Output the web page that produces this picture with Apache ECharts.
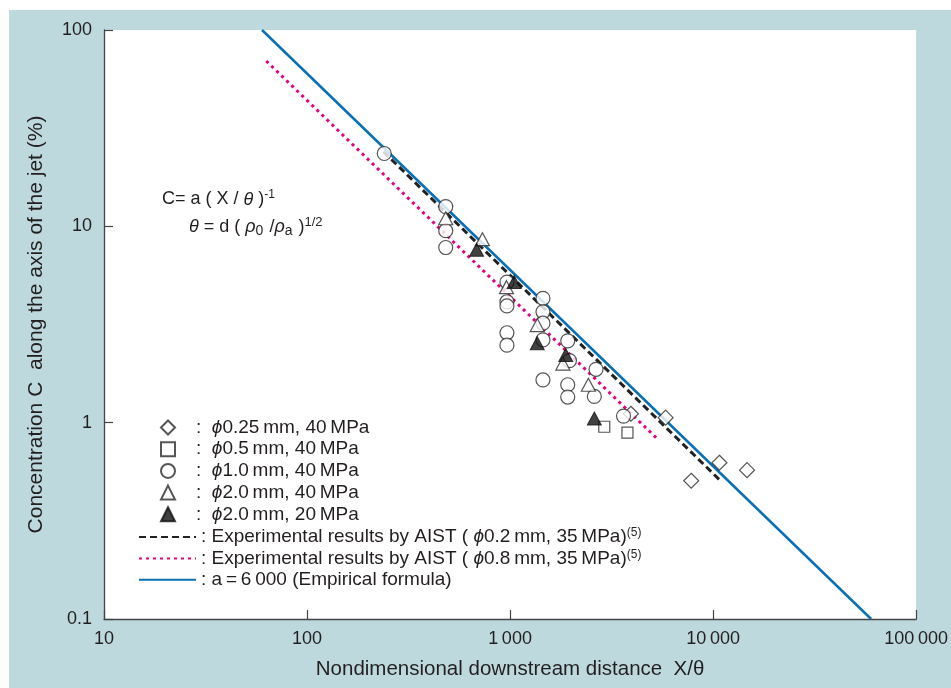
<!DOCTYPE html>
<html><head><meta charset="utf-8">
<script src="https://cdn.jsdelivr.net/npm/echarts@6/dist/echarts.min.js"></script>
<style>html,body{margin:0;padding:0;background:#fff}#c{width:951px;height:688px}</style>
</head><body><div id="c"></div>
<script>
// ---- data ----
const xTicks = [10, 100, 1000, 10000, 100000];
const xTickLabels = ['10', '100', '1\u2009000', '10\u2009000', '100\u2009000'];
const yTicks = [0.1, 1, 10, 100];
const yTickLabels = ['0.1', '1', '10', '100'];

const d025X = [3935, 5836, 10740, 14690, 7800];
const d025Y = [1.11, 1.06, 0.625, 0.573, 0.506];
const d05X = [2910, 3785];
const d05Y = [0.953, 0.89];
const d10X = [240, 482, 482, 482, 965, 965, 965, 965, 965, 1452, 1452, 1452, 1452, 1452, 1923, 1960, 1923, 1923, 2650, 2600, 3620];
const d10Y = [23.5, 12.6, 9.5, 7.8, 5.2, 4.13, 3.93, 2.87, 2.48, 4.30, 3.67, 3.21, 2.64, 1.65, 2.61, 2.07, 1.56, 1.35, 1.87, 1.36, 1.08];
const d20X = [482, 731, 960, 1361, 1820, 2430];
const d20Y = [11.0, 8.6, 4.9, 3.14, 2.0, 1.56];
const d20lowX = [684, 1047, 1361, 1880, 2600];
const d20lowY = [7.6, 5.2, 2.54, 2.21, 1.05];

const aist02X = [238, 11000];
const aist02Y = [24, 0.5];
const aist08X = [63, 5260];
const aist08Y = [69.5, 0.835];
const empX = [60, 60000];
const empY = [100, 0.1];

const markerNames = ['d025', 'd05', 'd10', 'd20', 'd20low'];
const lineNames = ['aist02', 'aist08', 'emp'];
const legendTexts = {
  d025: '{c|:}  {i|ϕ}0.25\u2009mm, 40\u2009MPa',
  d05: '{c|:}  {i|ϕ}0.5\u2009mm, 40\u2009MPa',
  d10: '{c|:}  {i|ϕ}1.0\u2009mm, 40\u2009MPa',
  d20: '{c|:}  {i|ϕ}2.0\u2009mm, 40\u2009MPa',
  d20low: '{c|:}  {i|ϕ}2.0\u2009mm, 20\u2009MPa',
  aist02: ': Experimental results by AIST ( {i|ϕ}0.2\u2009mm, 35\u2009MPa){s|(5)}',
  aist08: ': Experimental results by AIST ( {i|ϕ}0.8\u2009mm, 35\u2009MPa){s|(5)}',
  emp: ': a\u2009=\u20096\u2009000 (Empirical formula)'
};

const zip = (xs, ys) => xs.map((x, i) => [x, ys[i]]);
const FONT = '"Liberation Sans", Arial, Helvetica, sans-serif';
const TXT = '#231f20';
const LF = 19;

const hollow = { color: '#fff', borderColor: '#2a2a2a', borderWidth: 1.2 };
const noSym = { color: 'rgba(0,0,0,0)', borderColor: 'rgba(0,0,0,0)', borderWidth: 0 };

const legendText = {
  fontSize: LF, color: TXT, fontFamily: FONT, lineHeight: 18,
  rich: {
    c: { fontSize: LF, fontFamily: FONT, color: TXT, lineHeight: 18, padding: [0, 0, 0, 16] },
    i: { fontStyle: 'italic', fontSize: LF, fontFamily: FONT, color: TXT, lineHeight: 18 },
    s: { fontSize: 12, fontFamily: FONT, color: TXT, lineHeight: 18, padding: [0, 0, 8, 0] }
  }
};

const chart = echarts.init(document.getElementById('c'));
chart.setOption({
  animation: false,
  backgroundColor: '#fff',
  textStyle: { fontFamily: FONT },
  graphic: [
    { type: 'rect', z: -100, silent: true, shape: { x: 9, y: 10, width: 942, height: 678 }, style: { fill: '#bdd9dd' } },
    { type: 'text', left: 162, top: 189, style: {
        text: 'C= a ( X / {i|θ} ){s|-1}', fill: TXT, font: '18px ' + FONT,
        rich: { i: { fontStyle: 'italic', fontSize: 18, fontFamily: FONT, fill: TXT }, s: { fontSize: 12, fontFamily: FONT, fill: TXT, padding: [0, 0, 9, 0] } } } },
    { type: 'text', left: 189, top: 216, style: {
        text: '{i|θ} = d ( {i|ρ}{b|0} /{i|ρ}{b|a} ){s|1/2}', fill: TXT, font: '18px ' + FONT,
        rich: { i: { fontStyle: 'italic', fontSize: 18, fontFamily: FONT, fill: TXT }, b: { fontSize: 14, fontFamily: FONT, fill: TXT, padding: [9, 1, 0, 0] }, s: { fontSize: 13, fontFamily: FONT, fill: TXT, padding: [0, 0, 9, 0] } } } }
  ],
  grid: { left: 104, top: 30, right: 31, bottom: 69, show: true, backgroundColor: '#fff', borderWidth: 0 },
  legend: [
    {
      orient: 'vertical', left: 160, top: 418, padding: 0,
      itemWidth: 14, itemHeight: 14, itemGap: 2.7,
      data: markerNames,
      formatter: n => legendTexts[n],
      textStyle: legendText
    },
    {
      orient: 'vertical', left: 138, top: 527, padding: 0,
      itemWidth: 57, itemHeight: 13, itemGap: 1.6,
      data: lineNames,
      formatter: n => legendTexts[n],
      textStyle: legendText
    }
  ],
  xAxis: {
    type: 'log', logBase: 10, min: 10, max: 100000,
    name: 'Nondimensional downstream distance  X/θ', nameLocation: 'middle', nameGap: 40,
    nameTextStyle: { fontSize: 20.5, color: TXT, fontFamily: FONT },
    axisLine: { lineStyle: { color: '#444', width: 1.3 } },
    axisTick: { inside: true, length: 9, lineStyle: { color: '#444', width: 1.2 } },
    minorTick: { show: false },
    splitLine: { show: false },
    axisLabel: { fontSize: 18, color: TXT, margin: 11, formatter: v => { const i = xTicks.findIndex(t => Math.abs(Math.log10(t) - Math.log10(v)) < 1e-6); return i >= 0 ? xTickLabels[i] : ''; } }
  },
  yAxis: {
    type: 'log', logBase: 10, min: 0.1, max: 100,
    name: 'Concentration C  along the axis of the jet (%)', nameLocation: 'middle', nameGap: 57,
    nameTextStyle: { fontSize: 21, color: TXT, fontFamily: FONT },
    axisLine: { lineStyle: { color: '#444', width: 1.3 } },
    axisTick: { inside: true, length: 9, lineStyle: { color: '#444', width: 1.2 } },
    minorTick: { show: false },
    splitLine: { show: false },
    axisLabel: { fontSize: 18, color: TXT, margin: 12, formatter: v => { const i = yTicks.findIndex(t => Math.abs(Math.log10(t) - Math.log10(v)) < 1e-6); return i >= 0 ? yTickLabels[i] : ''; } }
  },
  series: [
    { name: 'aist02', type: 'line', z: 2, symbol: 'none', data: zip(aist02X, aist02Y), lineStyle: { color: '#222', width: 3, type: [7, 4] }, itemStyle: noSym },
    { name: 'aist08', type: 'line', z: 2, symbol: 'none', data: zip(aist08X, aist08Y), lineStyle: { color: '#e6007e', width: 3, type: [3, 4] }, itemStyle: noSym },
    { name: 'emp', type: 'line', z: 2, symbol: 'none', data: zip(empX, empY), lineStyle: { color: '#0a70b5', width: 2.5 }, itemStyle: noSym },
    { name: 'd025', type: 'scatter', z: 5, symbol: 'diamond', symbolSize: [15, 15], data: zip(d025X, d025Y), itemStyle: hollow },
    { name: 'd05', type: 'scatter', z: 5, symbol: 'rect', symbolSize: 11, data: zip(d05X, d05Y), itemStyle: hollow },
    { name: 'd10', type: 'scatter', z: 5, symbol: 'circle', symbolSize: 14, data: zip(d10X, d10Y), itemStyle: hollow },
    { name: 'd20', type: 'scatter', z: 5, symbol: 'triangle', symbolSize: [14, 13], data: zip(d20X, d20Y), itemStyle: hollow },
    { name: 'd20low', type: 'scatter', z: 5, symbol: 'triangle', symbolSize: [14, 13], data: zip(d20lowX, d20lowY), itemStyle: { color: '#111', borderColor: '#111', borderWidth: 1 } }
  ]
});
</script></body></html>
